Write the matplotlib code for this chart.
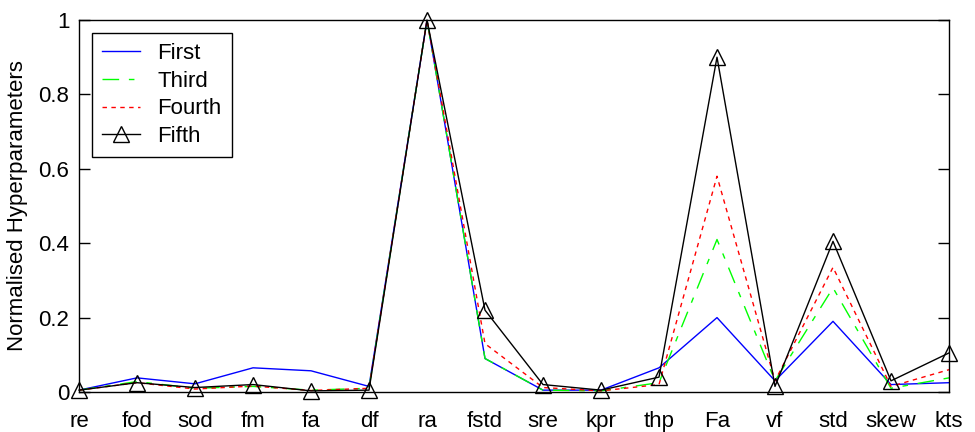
import matplotlib
matplotlib.use("Agg")
import matplotlib.pyplot as plt

# Feature names along the x axis
features = ['re', 'fod', 'sod', 'fm', 'fa', 'df', 'ra', 'fstd', 'sre', 'kpr',
            'thp', 'Fa', 'vf', 'std', 'skew', 'kts']

# Normalised hyperparameter values per model order
first  = [0.005, 0.038, 0.022, 0.065, 0.057, 0.015, 1.0, 0.09, 0.005, 0.005,
          0.065, 0.20, 0.03, 0.19, 0.02, 0.025]
third  = [0.005, 0.028, 0.010, 0.015, 0.005, 0.010, 1.0, 0.09, 0.005, 0.003,
          0.025, 0.41, 0.03, 0.28, 0.01, 0.038]
fourth = [0.005, 0.025, 0.008, 0.016, 0.004, 0.010, 1.0, 0.13, 0.012, 0.003,
          0.020, 0.58, 0.03, 0.335, 0.015, 0.06]
fifth  = [0.005, 0.025, 0.012, 0.020, 0.003, 0.005, 1.0, 0.22, 0.020, 0.005,
          0.040, 0.90, 0.015, 0.405, 0.03, 0.105]

series_names = ['First', 'Third', 'Fourth', 'Fifth']
yticks = [0, 0.2, 0.4, 0.6, 0.8, 1]
ytick_labels = ['0', '0.2', '0.4', '0.6', '0.8', '1']

plt.rcParams['font.family'] = ['Liberation Sans', 'DejaVu Sans']
FS = 16

fig = plt.figure(figsize=(9.75, 4.32), dpi=100)
ax = fig.add_axes([79 / 975, 1 - 392 / 432, 870 / 975, 372 / 432])

x = list(range(1, len(features) + 1))
lw = 1.0
ax.plot(x, first, color='#0000ff', lw=lw, ls='-', label=series_names[0])
ax.plot(x, third, color='#00ff00', lw=lw, ls=(0, (12, 7, 4, 7)), label=series_names[1])
ax.plot(x, fourth, color='#ff0000', lw=lw, ls=(0, (3.2, 3.2)), label=series_names[2])
ax.plot(x, fifth, color='black', lw=lw, ls='-', marker='^', ms=12,
        mfc='none', mec='black', mew=1.0, clip_on=False, label=series_names[3],
        zorder=5)

ax.set_xlim(1, 16)
ax.set_ylim(0, 1)

# Category labels under every point; tick marks only at even positions
ax.set_xticks(x)
ax.set_xticklabels(features, fontsize=FS)
ax.set_xticks(x[1::2], minor=True)
ax.tick_params(axis='x', which='major', length=0, pad=14)
ax.tick_params(axis='x', which='minor', length=8, width=1, direction='in',
               top=True, bottom=True)

ax.set_yticks(yticks)
ax.set_yticklabels(ytick_labels, fontsize=FS)
ax.tick_params(axis='y', which='major', length=8, width=1, direction='in',
               left=True, right=True, pad=7)
ax.yaxis.set_minor_locator(matplotlib.ticker.NullLocator())

ax.set_ylabel('Normalised Hyperparameters', fontsize=FS)
ax.yaxis.set_label_coords(-(79 - 28) / 870, 0.5)

for sp in ax.spines.values():
    sp.set_linewidth(1.0)
    sp.set_color('black')

leg = ax.legend(loc='upper left', bbox_to_anchor=(13 / 870, 1 - 13 / 372),
                borderaxespad=0, fontsize=FS, frameon=True, fancybox=False,
                edgecolor='black', framealpha=1, handlelength=1.7,
                handletextpad=0.8, labelspacing=0.3, borderpad=0.45,
                numpoints=1)
leg.get_frame().set_linewidth(1.0)

fig.savefig('out.png', dpi=100)
